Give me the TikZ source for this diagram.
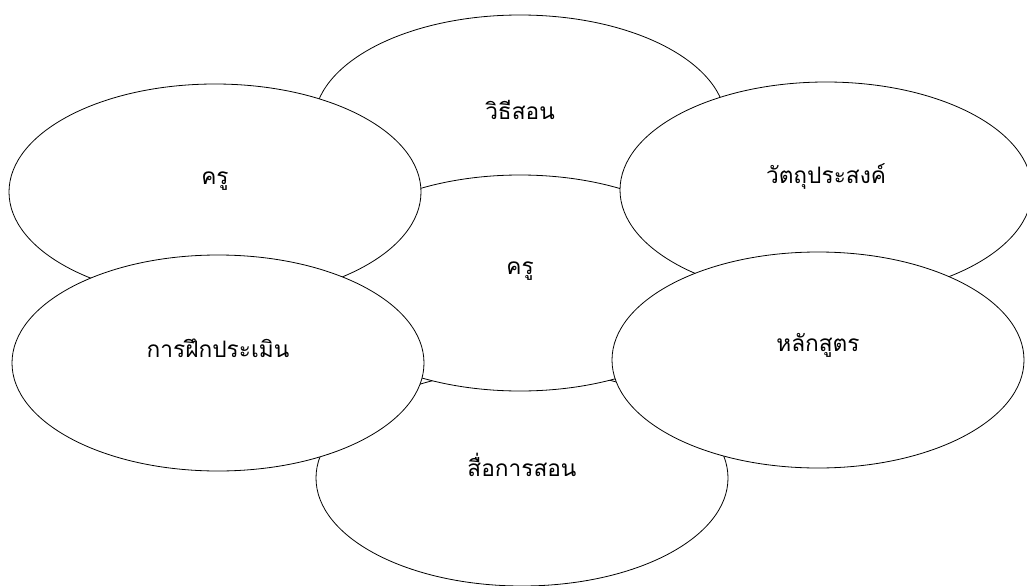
\documentclass[tikz,border=0pt]{standalone}
\usepackage{fontspec}
\newfontfamily\thaifont[Script=Thai]{Loma}
\usetikzlibrary{shapes.geometric}
\begin{document}
\begin{tikzpicture}[x=0.75pt,y=-0.75pt,
  bubble/.style={ellipse,draw=black,line width=0.6pt,fill=white,inner sep=0pt,outer sep=0pt,minimum width=309pt,minimum height=162pt},
  lbl/.style={font=\thaifont\fontsize{17pt}{20pt}\selectfont,inner sep=0pt,text=black}]
\useasboundingbox (0,0) rectangle (1027,585);
\clip (0,0) rectangle (1027,585);
\fill[white] (0,0) rectangle (1027,585);
\node[bubble] (top) at (520,123) {};
\node[bubble] (bottom) at (522,478) {};
\node[bubble] (center) at (520,283) {};
\node[bubble] (tl) at (215,192) {};
\node[bubble] (tr) at (826,190) {};
\node[bubble] (bl) at (218,363) {};
\node[bubble] (br) at (818,360) {};
\node[lbl] at ([yshift=10pt]top.center) {วิธีสอน};
\node[lbl] at ([yshift=9pt]center.center) {ครู};
\node[lbl] at ([yshift=8pt]tl.center) {ครู};
\node[lbl] at ([yshift=10pt]tr.center) {วัตถุประสงค์};
\node[lbl] at ([yshift=11pt]bl.center) {การฝึกประเมิน};
\node[lbl] at ([yshift=11pt]br.center) {หลักสูตร};
\node[lbl] at ([yshift=10pt]bottom.center) {สื่อการสอน};
\end{tikzpicture}
\end{document}
